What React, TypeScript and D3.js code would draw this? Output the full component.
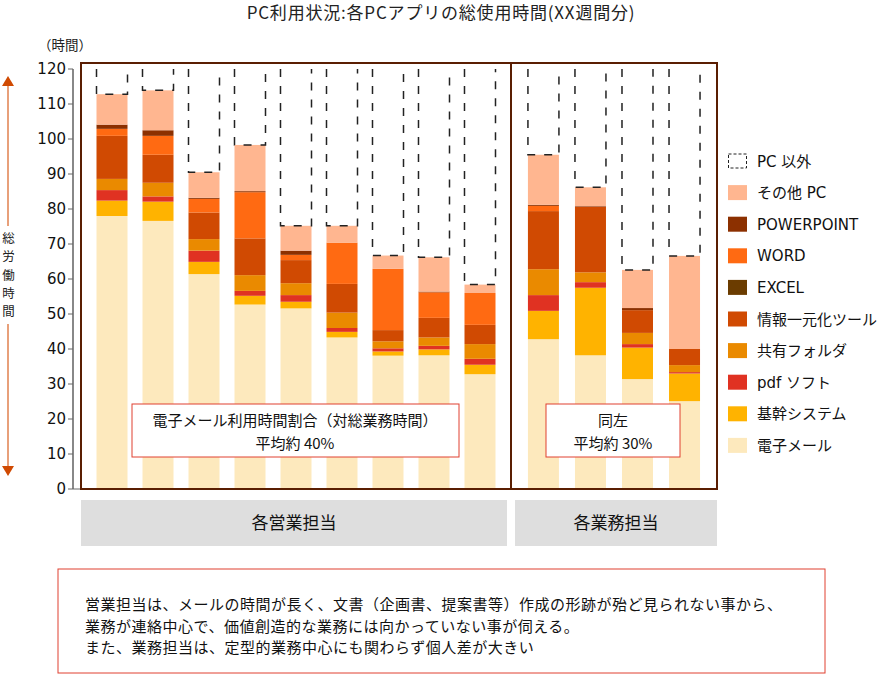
import React from 'react';
import * as d3 from 'd3';

const categories = ['営業1','営業2','営業3','営業4','営業5','営業6','営業7','営業8','営業9','業務1','業務2','業務3','業務4'];
const salesCats = categories.slice(0, 9);
const opsCats = categories.slice(9);

const email = [78.0, 76.6, 61.4, 52.7, 51.6, 43.3, 38.1, 38.2, 32.8, 42.8, 38.2, 31.4, 25.1];
const kikan = [4.4, 5.5, 3.5, 2.5, 1.9, 1.6, 1.2, 1.7, 2.7, 8.1, 19.3, 9.0, 7.9];
const pdf = [3.0, 1.5, 3.2, 1.4, 1.9, 1.1, 0.9, 1.0, 1.7, 4.5, 1.6, 1.0, 0.4];
const kyoyu = [3.2, 3.9, 3.3, 4.5, 3.4, 4.4, 2.0, 2.4, 4.2, 7.4, 2.8, 3.2, 2.0];
const joho = [12.3, 8.0, 7.6, 10.5, 6.6, 8.2, 3.2, 5.6, 5.5, 16.6, 18.7, 6.5, 4.6];
const excel = [0, 0, 0, 0, 0, 0, 0, 0, 0, 0, 0, 0, 0];
const word = [2.0, 5.4, 3.9, 13.2, 1.5, 11.8, 17.5, 7.3, 9.1, 1.5, 0, 0, 0];
const ppt = [1.2, 1.6, 0.3, 0.3, 1.2, 0, 0, 0.2, 0, 0.3, 0.2, 0.6, 0];
const otherPC = [8.7, 11.4, 7.3, 13.2, 7.1, 4.8, 3.8, 9.8, 2.4, 14.3, 5.4, 10.9, 26.6];
const nonPC = [7.2, 6.1, 29.5, 21.7, 44.8, 44.8, 53.3, 53.8, 61.6, 24.5, 33.8, 57.4, 53.4];

const seriesKeys = ['電子メール', '基幹システム', 'pdf ソフト', '共有フォルダ', '情報一元化ツール', 'EXCEL', 'WORD', 'POWERPOINT', 'その他 PC'];
const seriesValues = [email, kikan, pdf, kyoyu, joho, excel, word, ppt, otherPC];
const seriesColors = ['#fde9bd', '#ffb300', '#e03222', '#ea8a00', '#d04a02', '#6b3c00', '#ff6a12', '#8c3000', '#ffb690'];

const legendLabels = ['PC 以外', 'その他 PC', 'POWERPOINT', 'WORD', 'EXCEL', '情報一元化ツール', '共有フォルダ', 'pdf ソフト', '基幹システム', '電子メール'];
const yTicks = [0, 10, 20, 30, 40, 50, 60, 70, 80, 90, 100, 110, 120];

const title = 'PC利用状況:各PCアプリの総使用時間(XX週間分)';
const yUnit = '（時間）';
const sideLabel = ['総', '労', '働', '時', '間'];
const groupLabels = ['各営業担当', '各業務担当'];
const note1 = ['電子メール利用時間割合（対総業務時間）', '平均約 40%'];
const note2 = ['同左', '平均約 30%'];
const noteLines = [
  '営業担当は、メールの時間が長く、文書（企画書、提案書等）作成の形跡が殆ど見られない事から、',
  '業務が連絡中心で、価値創造的な業務には向かっていない事が伺える。',
  'また、業務担当は、定型的業務中心にも関わらず個人差が大きい',
];

const FONT = '"DejaVu Sans", "Noto Sans CJK JP", sans-serif';
const JFONT = '"Noto Sans CJK JP", sans-serif';

export default function App() {
  const W = 883, H = 676;
  const plotL = 81, plotR = 717, plotT = 63, plotB = 489, divX = 511;
  const y = d3.scaleLinear().domain([0, 120]).range([489, 69]);
  const xS = d3.scaleBand().domain(salesCats).range([plotL, divX]).paddingInner(0.326).paddingOuter(0.337);
  const xO = d3.scaleBand().domain(opsCats).range([divX, plotR]).paddingInner(0.34).paddingOuter(0.36);
  const xPos = (c: string) => (salesCats.includes(c) ? xS(c)! : xO(c)!);
  const bw = xS.bandwidth();

  const rows = categories.map((c, i) => {
    const r: any = { cat: c };
    seriesKeys.forEach((k, j) => (r[k] = seriesValues[j][i]));
    r['PC 以外'] = nonPC[i];
    return r;
  });
  const stack = d3.stack<any>().keys([...seriesKeys, 'PC 以外'])(rows);
  const legendColor: Record<string, string> = {};
  seriesKeys.forEach((k, j) => (legendColor[k] = seriesColors[j]));

  return (
    <div style={{ position: 'absolute', left: 0, top: 0 }}>
      <svg width={W} height={H} style={{ display: 'block' }}>
        <rect x={0} y={0} width={W} height={H} fill="#fff" />
        <text x={441} y={19} textAnchor="middle" fontFamily={JFONT} fontSize={17} letterSpacing={0.8} fill="#222">{title}</text>
        <text x={38} y={50} fontFamily={JFONT} fontSize={13.5} fill="#222">{yUnit}</text>

        {/* side arrow */}
        <line x1={8} x2={8} y1={84} y2={226} stroke="#e8a07a" strokeWidth={2} />
        <line x1={8} x2={8} y1={324} y2={468} stroke="#e8a07a" strokeWidth={2} />
        <path d="M2,86 L8,76 L14,86 Z" fill="#d04a02" />
        <path d="M2,466 L8,476 L14,466 Z" fill="#d04a02" />
        {sideLabel.map((ch, i) => (
          <text key={i} x={8.5} y={243 + i * 18.3} textAnchor="middle" fontFamily={JFONT} fontSize={12.5} fill="#222">{ch}</text>
        ))}

        {/* y axis */}
        <line x1={73} x2={73} y1={y(120)} y2={y(0)} stroke="#888" strokeWidth={2} />
        {yTicks.map(t => (
          <g key={t}>
            <line x1={68} x2={t === 0 ? plotL : 73} y1={y(t)} y2={y(t)} stroke="#666" strokeWidth={1} />
            <text x={66} y={y(t) + 5} textAnchor="end" fontFamily={FONT} fontSize={15} fill="#111">{t}</text>
          </g>
        ))}

        {/* bars */}
        {stack.map((s, si) => {
          const key = s.key;
          if (key === 'PC 以外') {
            return (
              <g key={key}>
                {s.map((d, i) => {
                  const x0 = xPos(categories[i]);
                  const yb = y(d[0]);
                  const yt = y(d[1]);
                  return (
                    <path key={i} d={`M${x0},${yt} V${yb} H${x0 + bw} V${yt}`} fill="none" stroke="#222" strokeWidth={1.5} strokeDasharray="8 9" />
                  );
                })}
              </g>
            );
          }
          return (
            <g key={key}>
              {s.map((d, i) => (
                <rect key={i} x={xPos(categories[i])} y={y(d[1])} width={bw} height={Math.max(0, y(d[0]) - y(d[1]))} fill={seriesColors[si]} />
              ))}
            </g>
          );
        })}

        {/* frame */}
        <rect x={plotL} y={plotT} width={plotR - plotL} height={plotB - plotT} fill="none" stroke="#5a1e02" strokeWidth={2} />
        <line x1={divX} x2={divX} y1={plotT} y2={plotB} stroke="#5a1e02" strokeWidth={2} />

        {/* annotation boxes */}
        <rect x={132} y={404} width={327} height={53} fill="#fff" stroke="#e04030" strokeWidth={1} />
        <text x={295} y={426} textAnchor="middle" fontFamily={JFONT} fontSize={15} fill="#111">{note1[0]}</text>
        <text x={295} y={449} textAnchor="middle" fontFamily={JFONT} fontSize={15} fill="#111">{note1[1]}</text>
        <rect x={546} y={404} width={134} height={53} fill="#fff" stroke="#e04030" strokeWidth={1} />
        <text x={613} y={426} textAnchor="middle" fontFamily={JFONT} fontSize={15} fill="#111">{note2[0]}</text>
        <text x={613} y={449} textAnchor="middle" fontFamily={JFONT} fontSize={15} fill="#111">{note2[1]}</text>

        {/* group labels */}
        <rect x={81} y={500} width={426} height={46} fill="#dedede" />
        <text x={294} y={529} textAnchor="middle" fontFamily={JFONT} fontSize={17} fill="#111">{groupLabels[0]}</text>
        <rect x={515} y={500} width={202} height={46} fill="#dedede" />
        <text x={616} y={529} textAnchor="middle" fontFamily={JFONT} fontSize={17} fill="#111">{groupLabels[1]}</text>

        {/* legend */}
        {legendLabels.map((lab, i) => {
          const cy = 161 + i * 31.6;
          return (
            <g key={lab}>
              {lab === 'PC 以外' ? (
                <rect x={728.5} y={cy - 7} width={18} height={14} fill="none" stroke="#222" strokeWidth={1} strokeDasharray="3 2" />
              ) : (
                <rect x={728} y={cy - 7.5} width={19} height={15} fill={legendColor[lab]} />
              )}
              <text x={757} y={cy + 5.5} fontFamily={FONT} fontSize={15} fill="#111">{lab}</text>
            </g>
          );
        })}

        {/* bottom note */}
        <rect x={58} y={569} width={767} height={104} fill="#fff" stroke="#e04030" strokeWidth={1} />
        {noteLines.map((l, i) => (
          <text key={i} x={85} y={610 + i * 21.5} fontFamily={JFONT} fontSize={15} letterSpacing={0.5} fill="#111">{l}</text>
        ))}
      </svg>
    </div>
  );
}
